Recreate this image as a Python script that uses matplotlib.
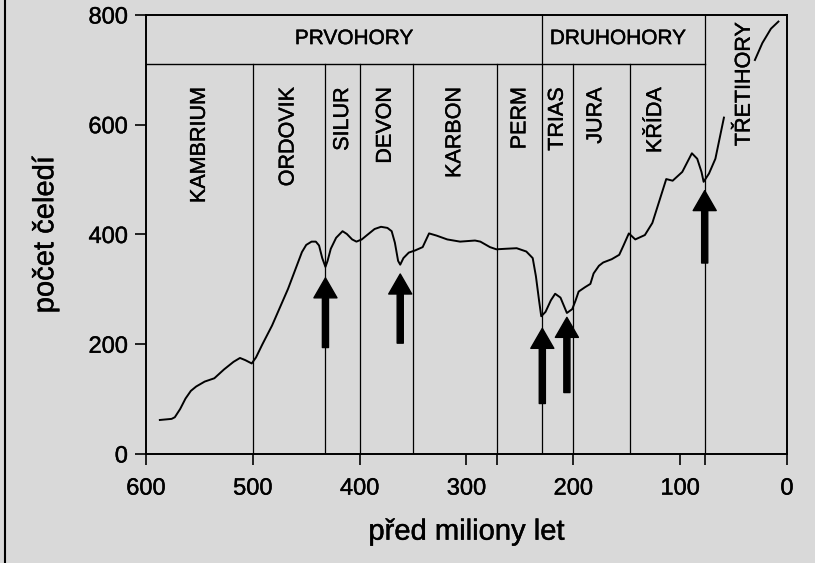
import numpy as np
import matplotlib
matplotlib.use("Agg")
import matplotlib.pyplot as plt
import matplotlib.patheffects as pe
from matplotlib.lines import Line2D

plt.rcParams['font.family'] = ['Liberation Sans', 'DejaVu Sans']

# number of families through time (millions of years ago); nan = gap behind label
years = [587, 576, 573, 568, 563, 558, 553, 545, 536, 527, 518, 512, 507, 501,
         497, 491, 482, 467, 454, 450, 445, 441, 438, 435, 432, 430, 427, 422,
         416, 412, 407, 403, 398, 393, 386, 380, 374, 370, 367, 364, 362, 359,
         354, 348, 341, 335, 328, 318, 306, 292, 287, 278, 272, 263, 253, 244,
         238, 235, 232, 230, 226, 221, 217, 212, 209, 206, 201, 198, 195, 189,
         184, 181, 176, 172, 164, 157, 153, 148, 142, 133, 126, 119, 113, 107,
         98, 89, 84, 80, 78, 73, 67, 59, np.nan,
         30, 23, 15, 8]
families = [62, 64, 67, 82, 101, 115, 123, 132, 138, 154, 168, 175, 171, 165,
            176, 200, 234, 301, 368, 381, 387, 387, 380, 357, 341, 352, 374, 394,
            406, 401, 391, 387, 391, 399, 410, 414, 412, 406, 385, 352, 345, 357,
            367, 371, 377, 402, 398, 391, 387, 389, 387, 377, 373, 374, 375, 369,
            357, 324, 279, 251, 259, 280, 292, 285, 271, 257, 264, 279, 296, 304,
            310, 329, 343, 349, 355, 363, 380, 402, 391, 399, 421, 464, 501, 498,
            514, 548, 538, 514, 496, 511, 538, 613, np.nan,
            718, 749, 775, 788]

# mass extinctions (arrows): time, tip, tail
ext_years = [432, 362, 229, 206, 77]
ext_tip = [321, 328, 229, 249, 480]
ext_tail = [194, 202, 92, 112, 348]

# geological periods
period_bounds = [500, 432, 400, 350, 271, 229, 200, 147, 77]
period_names = ['KAMBRIUM', 'ORDOVIK', 'SILUR', 'DEVON', 'KARBON', 'PERM',
                'TRIAS', 'JURA', 'KŘÍDA', 'TŘETIHORY']
period_label_x = [550, 467, 416, 376, 311, 250, 215, 179, 123, 40]

# eras
era_names = ['PRVOHORY', 'DRUHOHORY']
era_label_x = [405, 158]
era_bounds = [229, 77]
era_line = 710

bg = '#d9d9d9'
bold = [pe.withStroke(linewidth=0.3, foreground='black')]

fig = plt.figure(figsize=(8.15, 5.63), dpi=100, facecolor=bg)
ax = fig.add_axes([0.1791, 0.1936, 0.7865, 0.7798])
ax.set_facecolor(bg)

ax.set_xlim(600, 0)
ax.set_ylim(0, 800)

# period boundaries
for b in period_bounds:
    top = 800 if b in era_bounds else era_line
    ax.plot([b, b], [0, top], color='black', lw=0.9, zorder=1)
ax.plot([600, era_bounds[-1]], [era_line, era_line], color='black', lw=1.0, zorder=1)

for name, x in zip(period_names, period_label_x):
    ytop = 786 if name == 'TŘETIHORY' else 668
    ax.text(x, ytop, name, rotation=90, ha='center', va='top', fontsize=15.5,
            path_effects=bold)
for name, x in zip(era_names, era_label_x):
    ax.text(x, 757, name, ha='center', va='center', fontsize=15, path_effects=bold)

ax.plot(years, families, color='black', lw=1.4, zorder=3)

for x, tip, tail in zip(ext_years, ext_tip, ext_tail):
    ax.annotate('', xy=(x, tip), xytext=(x, tail),
                arrowprops=dict(arrowstyle='simple,head_length=0.72,head_width=0.83,tail_width=0.22',
                                mutation_scale=20, color='black', shrinkA=0, shrinkB=0),
                zorder=4)

ax.set_xticks([600, 500, 400, 300, 200, 100, 0])
ax.set_xticks([271, 77], minor=True)
ax.set_yticks([0, 200, 400, 600, 800])
ax.tick_params(axis='both', which='both', direction='out', length=8, width=1.2,
               labelsize=17, colors='black')
ax.tick_params(axis='x', pad=9)
ax.tick_params(axis='y', pad=5)
for s in ax.spines.values():
    s.set_linewidth(1.4)
for lab in ax.get_xticklabels() + ax.get_yticklabels():
    lab.set_path_effects(bold)

ax.set_xlabel('před miliony let', fontsize=21, labelpad=13, path_effects=bold)
ax.set_ylabel('počet čeledí', fontsize=21, labelpad=21, path_effects=bold)

fig.add_artist(Line2D([0.0065, 0.0065], [0, 1], color='black', lw=1.5))

fig.savefig('out.png', dpi=100, facecolor=bg)
